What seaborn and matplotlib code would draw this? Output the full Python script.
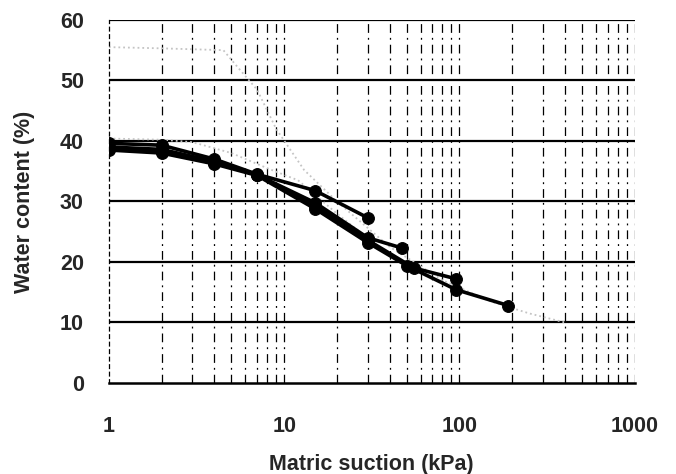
import numpy as np
import pandas as pd
import seaborn as sns
import matplotlib.pyplot as plt
from matplotlib.ticker import FixedLocator, NullFormatter

# black measured curves (matric suction kPa, water content %)
s1_x = [1, 2, 4, 7, 15, 30]
s1_y = [39.6, 39.3, 37.0, 34.5, 31.8, 27.3]
s2_x = [1, 2, 4, 7, 15, 30, 47]
s2_y = [39.0, 38.6, 36.6, 34.4, 29.8, 24.0, 22.3]
s3_x = [1, 2, 4, 7, 15, 30, 55, 96]
s3_y = [38.7, 38.2, 36.4, 34.4, 29.2, 23.6, 19.0, 17.2]
s4_x = [1, 2, 4, 7, 15, 30, 50, 96, 190]
s4_y = [38.5, 38.0, 36.2, 34.3, 28.8, 23.2, 19.4, 15.4, 12.8]

# faint grey curves from the scan
g1_x = [1, 2, 4.5, 5.5, 7, 9, 13, 20, 40, 80, 150, 250, 400]
g1_y = [55.5, 55.3, 55.0, 52.0, 48.5, 42.0, 35.2, 30.0, 22.5, 17.0, 13.5, 11.5, 10.0]
g2_x = [1, 2, 3, 5, 8, 12, 20, 40, 70, 120]
g2_y = [40.4, 40.2, 39.8, 38.0, 35.5, 33.5, 28.0, 21.0, 17.5, 14.5]

x_ticks = [1, 10, 100, 1000]
x_ticklabels = ["1", "10", "100", "1000"]
y_ticks = [0, 10, 20, 30, 40, 50, 60]

sns.set_style("white")
plt.rcParams['font.family'] = ['Liberation Sans', 'DejaVu Sans']

fig = plt.figure(figsize=(6.76, 4.74), dpi=100)
ax = fig.add_axes([0.161, 0.192, 0.778, 0.766])
ax.set_xscale("log")
ax.set_xlim(1, 1000)
ax.set_ylim(0, 60)

# grid: dash-dot verticals at every log minor step, solid horizontals
minor = [m * 10 ** e for e in range(0, 3) for m in range(2, 10)]
for v in minor + [10, 100, 1000]:
    ax.axvline(v, color="black", lw=0.9, ls=(0, (7, 4, 1.5, 4)), zorder=1)
for h in y_ticks[1:]:
    ax.axhline(h, color="black", lw=1.6, zorder=1)

for gx, gy in [(g1_x, g1_y), (g2_x, g2_y)]:
    sns.lineplot(x=gx, y=gy, ax=ax, color="#c4c4c4", lw=1.3, ls=":",
                 sort=False, zorder=2)

for sx, sy in [(s1_x, s1_y), (s2_x, s2_y), (s3_x, s3_y), (s4_x, s4_y)]:
    sns.lineplot(x=sx, y=sy, ax=ax, color="black", lw=2.6, marker="o",
                 markersize=8.5, markeredgecolor="black", sort=False, zorder=3)

for sp in ["top", "right"]:
    ax.spines[sp].set_visible(False)
ax.spines["left"].set_linestyle((0, (3, 3)))
ax.spines["left"].set_linewidth(0.9)
ax.spines["bottom"].set_linewidth(1.8)
ax.spines["left"].set_color("black")
ax.spines["bottom"].set_color("black")

ax.xaxis.set_major_locator(FixedLocator(x_ticks))
ax.xaxis.set_minor_locator(FixedLocator(minor))
ax.xaxis.set_minor_formatter(NullFormatter())
ax.set_xticklabels(x_ticklabels)
ax.set_yticks(y_ticks)
ax.tick_params(axis="both", which="both", length=0)
ax.tick_params(axis="x", pad=24, labelsize=15.5)
ax.tick_params(axis="y", pad=18, labelsize=15.5)
for lab in ax.get_xticklabels() + ax.get_yticklabels():
    lab.set_fontweight("bold")

ax.set_xlabel("Matric suction (kPa)", fontsize=15.5, fontweight="bold", labelpad=12)
ax.set_ylabel("Water content (%)", fontsize=15.5, fontweight="bold", labelpad=18)

fig.savefig("out.png", dpi=100)
